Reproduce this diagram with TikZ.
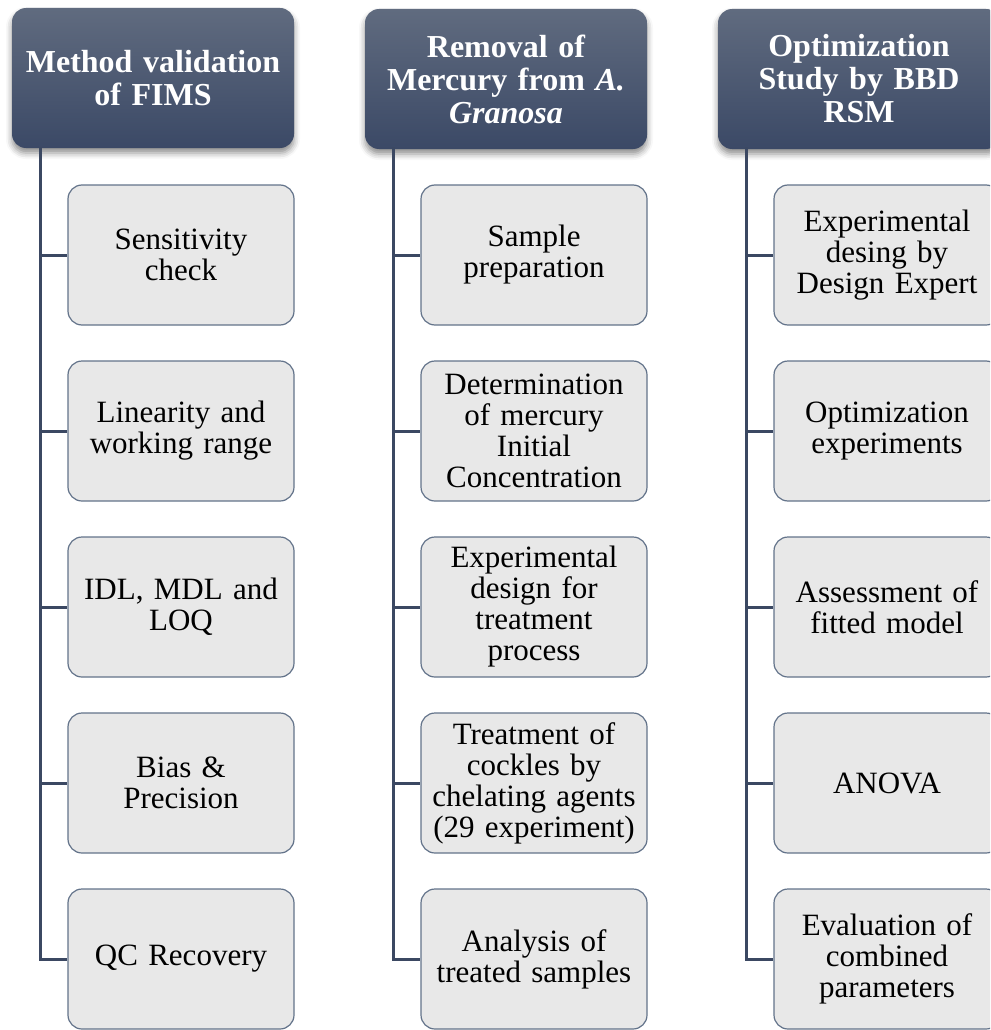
\documentclass[tikz,border=0pt]{standalone}
\usepackage{fontspec}
\setmainfont{Liberation Serif}
\usetikzlibrary{shadows.blur}

\definecolor{headtop}{HTML}{606B7F}
\definecolor{headbot}{HTML}{3B4966}
\definecolor{boxfill}{HTML}{E8E8E8}
\definecolor{boxline}{HTML}{63738A}
\definecolor{treeline}{HTML}{3B4862}

\tikzset{
  head/.style={rounded corners=14pt, top color=headtop, bottom color=headbot,
    minimum width=282pt, minimum height=140pt, text width=270pt, align=center,
    text=white, font=\fontsize{32}{33}\selectfont\bfseries,
    blur shadow={shadow xshift=0pt, shadow yshift=-5pt, shadow blur radius=6pt, shadow opacity=45}},
  leaf/.style={draw=boxline, line width=1.2pt, fill=boxfill, rounded corners=14pt,
    minimum width=226pt, minimum height=140pt, text width=216pt, align=center,
    font=\fontsize{31}{31}\selectfont},
  branch/.style={draw=treeline, line width=3pt}
}

\begin{document}
\begin{tikzpicture}[x=1pt,y=-1pt]
\clip (0,0) rectangle (990,1030);

\node[head] (hA) at (153,78) {Method validation\\of FIMS};
\node[head] (hB) at (506,79) {Removal of\\Mercury from \textit{A.}\\\textit{Granosa}};
\node[head] (hC) at (859,79) {Optimization\\Study by BBD\\RSM};

\node[leaf] (a1) at (181,255) {Sensitivity\\check};
\node[leaf] (a2) at (181,431) {Linearity and\\working range};
\node[leaf] (a3) at (181,607) {IDL, MDL and\\LOQ};
\node[leaf] (a4) at (181,783) {Bias \&\\Precision};
\node[leaf] (a5) at (181,959) {QC Recovery};

\node[leaf] (b1) at (534,255) {Sample\\preparation};
\node[leaf] (b2) at (534,431) {Determination\\of mercury\\Initial\\Concentration};
\node[leaf] (b3) at (534,607) {Experimental\\design for\\treatment\\process};
\node[leaf] (b4) at (534,783) {Treatment of\\cockles by\\chelating agents\\(29 experiment)};
\node[leaf] (b5) at (534,959) {Analysis of\\treated samples};

\node[leaf] (c1) at (887,255) {Experimental\\desing by\\Design Expert};
\node[leaf] (c2) at (887,431) {Optimization\\experiments};
\node[leaf] (c3) at (887,607) {Assessment of\\fitted model};
\node[leaf] (c4) at (887,783) {ANOVA};
\node[leaf] (c5) at (887,959) {Evaluation of\\combined\\parameters};

% trunks
\coordinate (tA) at (40,147);
\coordinate (tB) at (393,147);
\coordinate (tC) at (746,147);
\draw[branch] (tA) |- (a5.west);
\draw[branch] (tB) |- (b5.west);
\draw[branch] (tC) |- (c5.west);

% side branches
\foreach \n in {1,...,4}{
  \draw[branch] (tA |- a\n.west) -- (a\n.west);
  \draw[branch] (tB |- b\n.west) -- (b\n.west);
  \draw[branch] (tC |- c\n.west) -- (c\n.west);
}
\end{tikzpicture}
\end{document}
